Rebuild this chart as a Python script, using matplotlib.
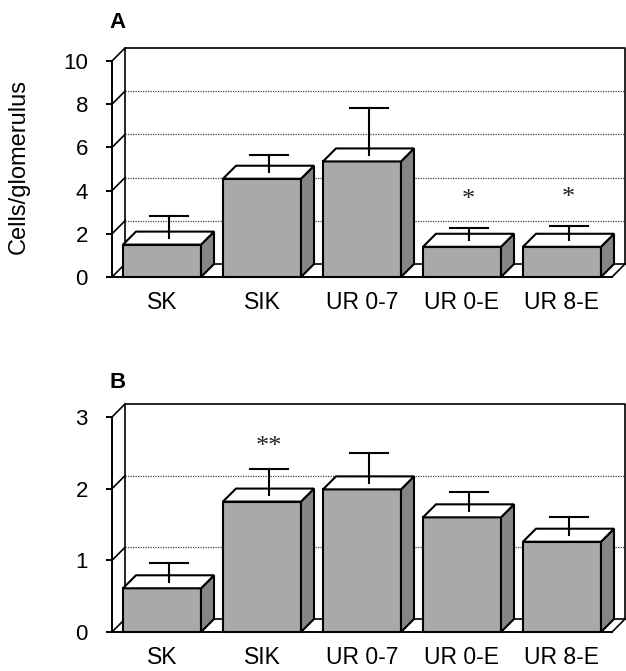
import numpy as np
import matplotlib
matplotlib.use("Agg")
import matplotlib.pyplot as plt
from matplotlib.patches import Polygon, Rectangle

plt.rcParams["font.family"] = ["Liberation Sans", "DejaVu Sans"]

# data
CATEGORIES = ["SK", "SIK", "UR 0-7", "UR 0-E", "UR 8-E"]

A_MEANS = [1.5, 4.55, 5.35, 1.4, 1.4]
A_ERR   = [1.0, 0.82, 2.17, 0.58, 0.65]
A_STARS = ["", "", "", "*", "*"]
A_TICKS = [0, 2, 4, 6, 8, 10]
A_GRID  = [2, 4, 6, 8]

B_MEANS = [0.61, 1.82, 1.99, 1.60, 1.26]
B_ERR   = [0.26, 0.36, 0.42, 0.26, 0.25]
B_STARS = ["", "**", "", "", ""]
B_TICKS = [0, 1, 2, 3]
B_GRID  = [1, 2]

W, H = 626, 671
DEPTH = 13          # 3d depth offset, pixels
BAR_W = 0.78
FRONT = "#a9a9a9"
SIDE = "#858585"
LW = 1.5


def draw_panel(ax, means, errs, stars, ticks, grid, star_px):
    x0, x1 = -0.5, len(CATEGORIES) - 0.5
    ymax = ticks[-1]
    ax.set_xlim(x0, x1)
    ax.set_ylim(0, ymax)
    bb = ax.get_window_extent()
    dx = DEPTH * (x1 - x0) / bb.width
    dy = DEPTH * ymax / bb.height

    line = dict(color="black", lw=1.2, clip_on=False, zorder=1)
    # back wall + floor
    ax.plot([x0 + dx, x0 + dx, x1 + dx, x1 + dx], [dy, ymax + dy, ymax + dy, dy], **line)
    ax.plot([x0 + dx, x1 + dx], [dy, dy], **line)
    ax.plot([x1, x1 + dx], [0, dy], **line)
    for t in ticks:
        ax.plot([x0, x0 + dx], [t, t + dy], **line)
    for g in grid:
        ax.plot([x0 + dx, x1 + dx], [g + dy, g + dy], color="#444444", lw=0.9,
                ls=(0, (1, 1)), clip_on=False, zorder=1)

    for i, (m, e, s) in enumerate(zip(means, errs, stars)):
        xl, xr = i - BAR_W / 2, i + BAR_W / 2
        ax.add_patch(Rectangle((xl, 0), BAR_W, m, facecolor=FRONT, edgecolor="black",
                               lw=LW, zorder=3, clip_on=False))
        ax.add_patch(Polygon([(xr, 0), (xr + dx, dy), (xr + dx, m + dy), (xr, m)],
                             facecolor=SIDE, edgecolor="black", lw=LW, zorder=3, clip_on=False))
        ax.add_patch(Polygon([(xl, m), (xr, m), (xr + dx, m + dy), (xl + dx, m + dy)],
                             facecolor="white", edgecolor="black", lw=LW, zorder=3,
                             joinstyle="miter", clip_on=False))
        xm, ym = i + dx / 2, m + dy / 2
        ax.plot([xm, xm], [ym, ym + e], color="black", lw=LW, zorder=4)
        ax.plot([xm - 0.19, xm + 0.19], [ym + e, ym + e], color="black", lw=LW, zorder=4)
        if s:
            ys = ym + e + star_px * ymax / bb.height
            ax.text(xm, ys, s, ha="center", va="center", fontsize=19,
                    family="Liberation Serif", color="#222222")

    for side in ["top", "right"]:
        ax.spines[side].set_visible(False)
    for side in ["left", "bottom"]:
        ax.spines[side].set_linewidth(1.4)
        ax.spines[side].set_zorder(2)
    ax.set_yticks(ticks)
    ax.set_xticks(range(len(CATEGORIES)))
    ax.set_xticklabels(CATEGORIES)
    ax.tick_params(axis="y", length=4.3, width=1.4, pad=13, labelsize=16)
    ax.tick_params(axis="x", length=0, pad=10, labelsize=16.5)
    ax.patch.set_visible(False)


fig = plt.figure(figsize=(W / 100, H / 100), dpi=100)
axA = fig.add_axes([112 / W, 1 - 277 / H, 500 / W, 216 / H])
axB = fig.add_axes([112 / W, 1 - 632 / H, 500 / W, 215 / H])

draw_panel(axA, A_MEANS, A_ERR, A_STARS, A_TICKS, A_GRID, 28)
draw_panel(axB, B_MEANS, B_ERR, B_STARS, B_TICKS, B_GRID, 22)

fig.text(109 / W, 1 - 23 / H, "A", ha="left", va="center", fontsize=16, weight="bold")
fig.text(109 / W, 1 - 383 / H, "B", ha="left", va="center", fontsize=16, weight="bold")
fig.text(19 / W, 1 - 167 / H, "Cells/glomerulus", rotation=90, ha="center", va="center",
         fontsize=17)

fig.savefig("out.png", dpi=100)
